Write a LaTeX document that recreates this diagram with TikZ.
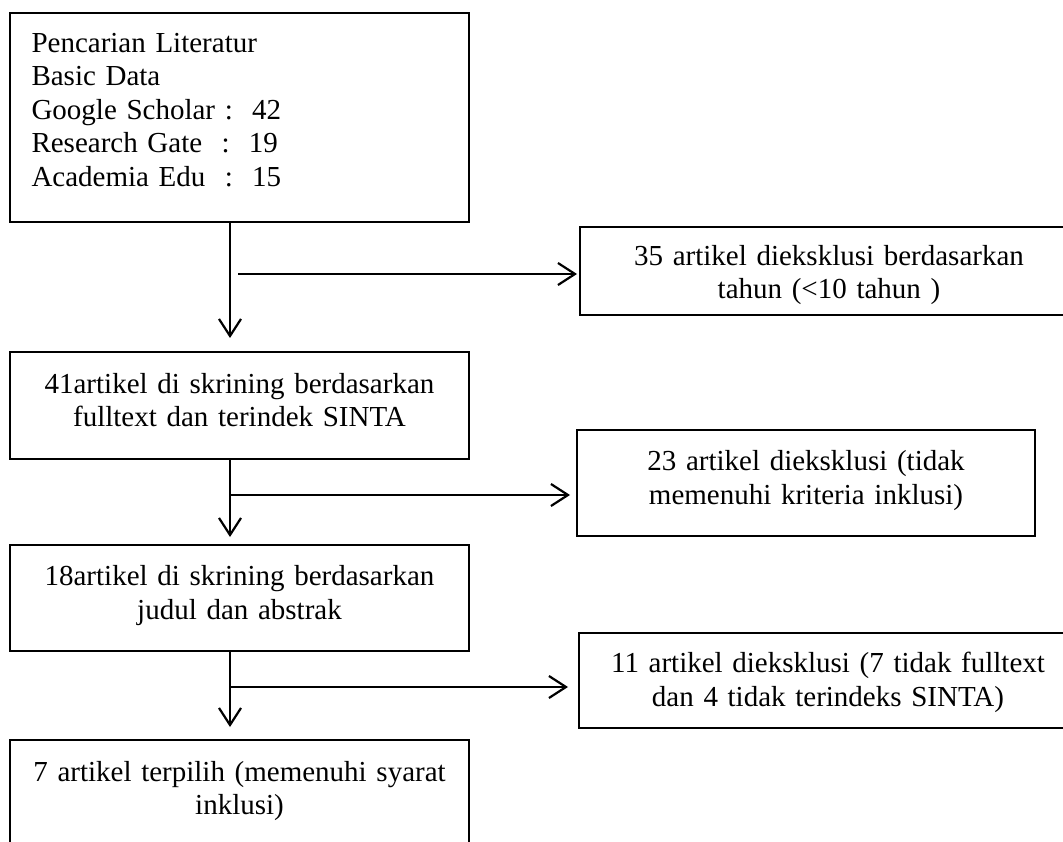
\documentclass[tikz,border=0pt]{standalone}
\usepackage{fontspec}
\setmainfont{Liberation Serif}
\usepackage{tikz}
\usetikzlibrary{positioning, arrows.meta}

\begin{document}
\begin{tikzpicture}[x=1pt, y=-1pt,
    box/.style={draw, line width=1.5pt, outer sep=0pt, inner xsep=5pt, minimum width=459pt, minimum height=107pt,
                text width=440pt, align=center, text height=20pt, text depth=45pt,
                font=\fontsize{29}{33.5}\selectfont},
    outbox/.style={box, minimum width=498pt, minimum height=88pt},
    arr/.style={-{Straight Barb[length=17pt, width=22pt]}, line width=2.2pt}]
  \useasboundingbox (0,0) rectangle (1063,842);
  \clip (0,0) rectangle (1063,842);
  % kolom kiri
  \node [box, minimum height=209pt, align=left, inner xsep=21pt, text width=416pt, text depth=150pt] (b1) at (239.5,117.5)
    {Pencarian Literatur\\ Basic Data\\ Google Scholar :~~42\\ Research Gate~~:~~19\\ Academia Edu~~:~~15};
  \node [box, below=130pt of b1] (b2) {41artikel di skrining berdasarkan\\ fulltext dan terindek SINTA};
  \node [box, minimum height=106pt, below=86pt of b2] (b3) {18artikel di skrining berdasarkan\\ judul dan abstrak};
  \node [box, below=89pt of b3] (b4) {7 artikel terpilih (memenuhi syarat\\ inklusi)};
  % kolom kanan
  \node [outbox, text depth=31pt, below right=5pt and 111pt of b1] (x1) {35 artikel dieksklusi berdasarkan\\ tahun (<10 tahun )};
  \node [outbox, minimum width=458pt, minimum height=106pt,
         below right=78pt and 108pt of b2.north east] (x2) {23 artikel dieksklusi (tidak\\ memenuhi kriteria inklusi)};
  \node [outbox, minimum height=95pt, text depth=36pt, below right=88pt and 110pt of b3.north east] (x3)
    {11 artikel dieksklusi (7 tidak fulltext\\ dan 4 tidak terindeks SINTA)};
  % panah
  \coordinate (ax) at (230,0);
  \coordinate (j1) at (238,274);
  \coordinate (j2) at (230,495);
  \coordinate (j3) at (230,687);
  \draw [arr, shorten >=14pt] (b1.south -| ax) -- (b2.north -| ax);
  \draw [arr, shorten >=8pt] (b2.south -| ax) -- (b3.north -| ax);
  \draw [arr, shorten >=13pt] (b3.south -| ax) -- (b4.north -| ax);
  \draw [arr, shorten >=3pt] (j1) -- (j1 -| x1.west);
  \draw [arr, shorten >=7pt] (j2) -- (j2 -| x2.west);
  \draw [arr, shorten >=11pt] (j3) -- (j3 -| x3.west);
%  \draw [arr] (b1.east) -- (x1.west);
\end{tikzpicture}
\end{document}
